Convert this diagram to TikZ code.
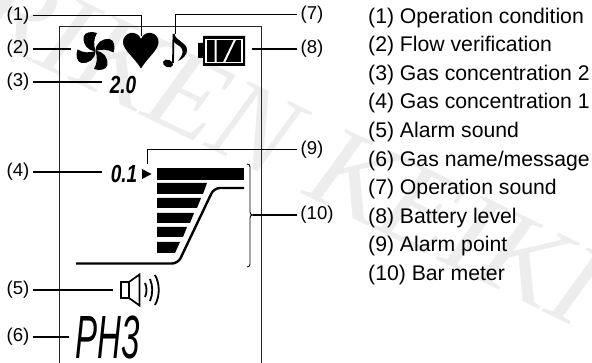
\documentclass[tikz,border=0pt]{standalone}
\usepackage{fontspec}
\setmainfont{Liberation Sans}
\newfontfamily\markfont{Liberation Serif}
\usetikzlibrary{positioning}

\begin{document}
\begin{tikzpicture}[x=1pt,y=-1pt,
        lab/.style={inner sep=3pt,font=\fontsize{18.6}{20}\selectfont},
        item/.style={inner sep=0pt,text height=15pt,text depth=5pt,
          font=\fontsize{21.2}{24}\selectfont},
        lead/.style={line width=1.5pt},
        leadthin/.style={line width=1pt},
        lcd/.style={inner sep=0pt,font=\fontsize{19}{20}\selectfont\bfseries\itshape},
        bar/.style={fill=black,draw=none},
        wmark/.style={text=black!7,inner sep=0pt,rotate=-26,
          font=\fontsize{118}{125}\selectfont\markfont\itshape}]

      \useasboundingbox (0,0) rectangle (592,363);

      % watermark
      \node[wmark] (mark) at (290,145) {RIKEN KEIKI};

      % display frame
      \draw[line width=1pt,black!85] (59,363) -- (59,26.5) -- (261,26.5) -- (261,363);

      % fan
      \foreach \a in {0,90,180,270}
        \fill[shift={(95.5,51)},rotate=\a] (0,0) .. controls (-8,0) and (-13,-7) .. (-12,-14)
          .. controls (-11,-19) and (-4,-20) .. (1.5,-18) .. controls (-2,-12) and (-2,-6) .. (0,0) -- cycle;
      % heart
      \fill (141,68.5) .. controls (134,57) and (123,50) .. (123,42) .. controls (123,32) and (137,29) .. (141,39)
        .. controls (145,29) and (158.5,32) .. (158.5,42) .. controls (158.5,50) and (148,57) .. (141,68.5) -- cycle;
      % note
      \fill[rotate around={-20:(168,63.5)}] (168,63.5) ellipse (5.2 and 3.8);
      \draw[line width=1.8pt] (173,63) -- (173.5,34);
      \fill (174,33) .. controls (176,42) and (187,42) .. (187,50) .. controls (187,55) and (183,59) .. (178,61)
        .. controls (181,57) and (184,53) .. (182,49) .. controls (180,45) and (176,45) .. (174,42) -- cycle;
      % battery
      \fill (203,36) rectangle (245,66) (198,43) rectangle (204,58);
      \draw[white,line width=1.2pt] (206,39.5) rectangle (242,62.5);
      \draw[white,line width=2pt] (215.5,39.5) -- (215.5,62.5) (235,39.5) -- (224,62.5);

      \node[lcd] (conc2) at (123,85) {\scalebox{1}[1.3]{2.0}};
      \node[lcd] (conc1) at (124,174) {\scalebox{1}[1.3]{0.1}};
      \fill (142,169) -- (151.5,174) -- (142,179) -- cycle;

      % bar meter
      \fill[bar] (157,168) rectangle (244,180);
      \fill[bar] (157,183) -- (207,183) -- (203,194) -- (157,194) -- cycle;
      \fill[bar] (157,198) -- (201,198) -- (197,208) -- (157,208) -- cycle;
      \fill[bar] (157,213) -- (194,213) -- (190,223) -- (157,223) -- cycle;
      \fill[bar] (157,227) -- (187,227) -- (183,237) -- (157,237) -- cycle;
      \fill[bar] (157,242) -- (180,242) -- (175,253) -- (157,253) -- cycle;
      \draw[line width=2.4pt,rounded corners=6pt] (244,188) -- (214,188) -- (178,263.5) -- (76,263.5);
      \draw[line width=.8pt] (247,164) .. controls (249,164) and (250,165) .. (250,167) -- (250,212)
        .. controls (250,214) and (251,215) .. (253,215) .. controls (251,215) and (250,216) .. (250,218)
        -- (250,264) .. controls (250,266) and (249,267) .. (247,267);

      % speaker
      \draw[line width=1.7pt,line join=miter] (121,282) rectangle (129,298)
        (129,282) -- (139.5,274.5) -- (139.5,305.5) -- (129,298);
      \draw[line width=1.8pt] (145,283) .. controls (147,287) and (147,293) .. (145,297)
        (150,279) .. controls (153,286) and (153,294) .. (150,301)
        (155,275) .. controls (160,284) and (160,296) .. (155,305);

      \node[inner sep=0pt] (gasname) at (108,337) {\fontsize{33}{35}\selectfont\itshape\scalebox{1}[1.85]{PH3}};

      % ends of the leader lines
      \coordinate (heart) at (141,36);
      \coordinate (note) at (175,34);
      \coordinate (fan) at (71,49);
      \coordinate (batt) at (252,49);
      \coordinate (alarm) at (147,164);
      \coordinate (brace) at (253,215);
      \coordinate (sound) at (113,290);
      \coordinate (c2end) at (102,82);
      \coordinate (c1end) at (102,172);
      \coordinate (nameend) at (69,337);

      \node[lab] (l1) at (18,15.5) {(1)};
      \node[lab] (l2) at (18,49) {(2)};
      \node[lab] (l3) at (18,82) {(3)};
      \node[lab] (l4) at (18,172) {(4)};
      \node[lab] (l5) at (18,290) {(5)};
      \node[lab] (l6) at (18,337) {(6)};
      \node[lab] (l7) at (312,15) {(7)};
      \node[lab] (l8) at (312,49) {(8)};
      \node[lab] (l9) at (312,150) {(9)};
      \node[lab] (l10) at (317,215) {(10)};

      \draw[leadthin] (l1.east) -| (heart);
      \draw[leadthin] (l7.west) -| (note);
      \draw[leadthin] (l9.west) -| (alarm);
      \draw[lead] (l2) -- (fan);
      \draw[lead] (l3) -- (c2end);
      \draw[lead] (l4) -- (c1end);
      \draw[lead] (l5) -- (sound);
      \draw[lead] (l6) -- (nameend);
      \draw[lead] (l8) -- (batt);
      \draw[lead] (l10) -- (brace);

      % list on the right
      \node[item,anchor=north west] (it1) at (368,8) {(1) Operation condition};
      \node[item] (it2) [below=8.2pt of it1.south west,anchor=north west] {(2) Flow verification};
      \node[item] (it3) [below=8.2pt of it2.south west,anchor=north west] {(3) Gas concentration 2};
      \node[item] (it4) [below=8.2pt of it3.south west,anchor=north west] {(4) Gas concentration 1};
      \node[item] (it5) [below=8.2pt of it4.south west,anchor=north west] {(5) Alarm sound};
      \node[item] (it6) [below=8.2pt of it5.south west,anchor=north west] {(6) Gas name/message};
      \node[item] (it7) [below=8.2pt of it6.south west,anchor=north west] {(7) Operation sound};
      \node[item] (it8) [below=8.2pt of it7.south west,anchor=north west] {(8) Battery level};
      \node[item] (it9) [below=8.2pt of it8.south west,anchor=north west] {(9) Alarm point};
      \node[item] (it10) [below=8.2pt of it9.south west,anchor=north west] {(10) Bar meter};
\end{tikzpicture}
\end{document}
